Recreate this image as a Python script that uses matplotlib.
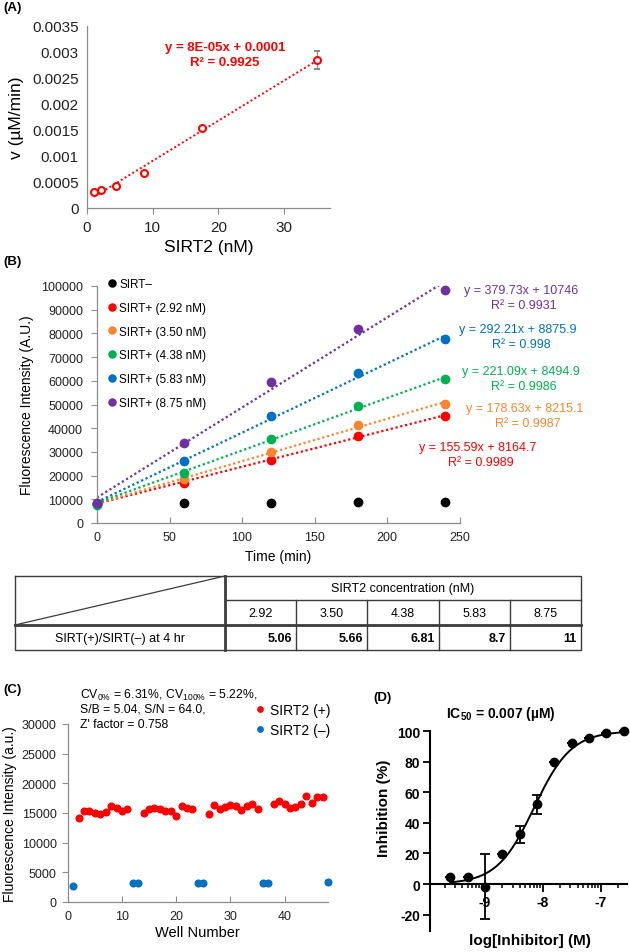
import numpy as np
import matplotlib
matplotlib.use('Agg')
import matplotlib.pyplot as plt

plt.rcParams['font.family'] = ['Liberation Sans', 'DejaVu Sans']
plt.rcParams['mathtext.fontset'] = 'custom'
plt.rcParams['mathtext.rm'] = 'Liberation Sans'
plt.rcParams['mathtext.it'] = 'Liberation Sans:italic'
plt.rcParams['mathtext.bf'] = 'Liberation Sans:bold'
plt.rcParams['axes.unicode_minus'] = False

W, H = 630, 953

# ---- (A) velocity vs enzyme
sirt2_nM = [1.09, 2.19, 4.38, 8.75, 17.5, 35.0]
velocity = [0.00031, 0.00035, 0.00042, 0.00067, 0.00153, 0.00285]
velocity_err = [0, 0, 0, 0, 0, 0.00017]
a_fit_text = ['y = 8E-05x + 0.0001', 'R² = 0.9925']

# ---- (B) time course
time_min = [0, 60, 120, 180, 240]
sirt_neg = [8200, 8300, 8300, 8700, 8800]
sirt_292 = [8000, 16900, 26700, 36800, 45000]
sirt_350 = [8100, 18400, 30100, 41200, 50300]
sirt_438 = [7600, 21200, 35600, 49500, 60800]
sirt_583 = [8300, 26000, 45000, 63200, 77500]
sirt_875 = [8600, 33600, 59400, 81900, 98300]
b_labels = ['SIRT–', 'SIRT+ (2.92 nM)', 'SIRT+ (3.50 nM)', 'SIRT+ (4.38 nM)',
            'SIRT+ (5.83 nM)', 'SIRT+ (8.75 nM)']
b_colors = ['#000000', '#FF0000', '#F7862F', '#00B050', '#0070C0', '#7030A0']
b_slopes = [155.59, 178.63, 221.09, 292.21, 379.73]
b_icpts = [8164.7, 8215.1, 8494.9, 8875.9, 10746]
b_r2 = ['0.9989', '0.9987', '0.9986', '0.998', '0.9931']

# ---- table
conc_labels = ['2.92', '3.50', '4.38', '5.83', '8.75']
ratios = ['5.06', '5.66', '6.81', '8.7', '11']

# ---- (C) plate uniformity
wells_pos = [2, 3, 4, 5, 6, 7, 8, 9, 10, 11, 14, 15, 16, 17, 18, 19, 20, 21, 22, 23,
             26, 27, 28, 29, 30, 31, 32, 33, 34, 35, 38, 39, 40, 41, 42, 43, 44, 45, 46, 47]
signal_pos = [14240, 15420, 15300, 15040, 14760, 15240, 16200, 15800, 15420, 15700,
              14970, 15650, 15760, 15700, 15360, 15360, 14460, 16140, 15920, 15650,
              14760, 16390, 15700, 15980, 16330, 16200, 15530, 16200, 16480, 15700,
              16480, 17040, 16480, 15870, 15980, 16480, 17900, 16700, 17700, 17750]
wells_neg = [1, 12, 13, 24, 25, 36, 37, 48]
signal_neg = [2650, 3200, 3250, 3200, 3150, 3150, 3150, 3330]

# ---- (D) dose response
log_inh = [-9.6, -9.3, -9.0, -8.7, -8.4, -8.1, -7.8, -7.5, -7.2, -6.9, -6.6]
inhibition = [4.8, 4.4, -1.7, 19.4, 32.5, 52.0, 79.5, 92.2, 95.4, 98.5, 99.8]
inhibition_err = [0, 0, 21, 0, 5.7, 6.3, 0, 0, 0, 0, 0]
fit_bottom, fit_top, fit_logic50, fit_hill = 0.0, 100.0, -8.15, 1.35


def box(l, t, r, b):
    return [l / W, 1 - b / H, (r - l) / W, (b - t) / H]


fig = plt.figure(figsize=(W / 100, H / 100), dpi=100)


def ftext(x, y, s, **kw):
    kw.setdefault('ha', 'center')
    kw.setdefault('va', 'center')
    fig.text(x / W, 1 - y / H, s, **kw)


def excel_axes(ax):
    for s in ['top', 'right']:
        ax.spines[s].set_visible(False)
    for s in ['left', 'bottom']:
        ax.spines[s].set_color('#8C8C8C')
        ax.spines[s].set_linewidth(0.9)
    ax.tick_params(colors='#8C8C8C', labelcolor='#222222', labelsize=9)


# (A)
axA = fig.add_axes(box(87, 27, 330, 209))
excel_axes(axA)
k, b0 = np.polyfit(sirt2_nM, velocity, 1)
xa = np.array([sirt2_nM[0], sirt2_nM[-1]])
axA.plot(xa, k * xa + b0, ls=(0, (1, 1.3)), color='#FF0000', lw=1.4)
axA.errorbar(sirt2_nM, velocity, yerr=velocity_err, fmt='o', mfc='white', mec='#FF0000',
             ms=5, mew=1.5, ecolor='#8C8C8C', elinewidth=0.9, capsize=2.5, capthick=0.9)
axA.set_xlim(0, 37)
axA.set_ylim(0, 0.0035)
yt = np.arange(0, 0.0036, 0.0005)
axA.set_yticks(yt)
axA.set_yticklabels(['%g' % v for v in yt], fontsize=11)
axA.set_xticks([0, 10, 20, 30])
axA.set_xticklabels(['0', '10', '20', '30'], fontsize=11)
axA.tick_params(axis='y', length=0, pad=6)
axA.tick_params(axis='x', length=4, pad=5)
axA.set_ylabel('v (µM/min)', fontsize=12.5, labelpad=6)
axA.set_xlabel('SIRT2 (nM)', fontsize=12.5, labelpad=3)
ftext(225, 48, a_fit_text[0], color='#FF0000', fontsize=9.5, fontweight='bold')
ftext(225, 63, a_fit_text[1], color='#FF0000', fontsize=9.5, fontweight='bold')
ftext(3, 8, '(A)', ha='left', fontsize=9.5, fontweight='bold')

# (B)
axB = fig.add_axes(box(97, 287, 459.5, 524))
excel_axes(axB)
series = [sirt_neg, sirt_292, sirt_350, sirt_438, sirt_583, sirt_875]
tt = np.array([time_min[0], time_min[-1]])
for i, (ys, c, lab) in enumerate(zip(series, b_colors, b_labels)):
    if i > 0:
        axB.plot(tt, b_slopes[i - 1] * tt + b_icpts[i - 1], ls=(0, (1, 1.2)),
                 color=c, lw=1.6, zorder=2)
    axB.plot(time_min, ys, 'o', color=c, ms=6, label=lab, zorder=3, clip_on=False)
axB.set_xlim(0, 250)
axB.set_ylim(0, 100000)
axB.set_xticks(np.arange(0, 251, 50))
axB.set_yticks(np.arange(0, 100001, 10000))
axB.set_yticklabels([str(v) for v in range(0, 100001, 10000)])
axB.tick_params(axis='y', length=4, pad=6)
axB.tick_params(axis='x', direction='in', length=4, pad=6)
axB.set_ylabel('Fluorescence Intensity (A.U.)', fontsize=10, labelpad=5)
axB.set_xlabel('Time (min)', fontsize=10, labelpad=4)
axB.legend(loc='upper left', bbox_to_anchor=(108 / W, 1 - 279 / H),
           bbox_transform=fig.transFigure, frameon=False, fontsize=8.5,
           handlelength=0.6, handletextpad=0.35, labelspacing=1.0,
           borderpad=0, borderaxespad=0, markerscale=0.85)
eq_pos = [(478, 448), (525, 409), (521, 372), (518, 330), (521, 291)]
for i, (x, y) in enumerate(eq_pos):
    c = b_colors[i + 1]
    ftext(x, y, 'y = %gx + %g' % (b_slopes[i], b_icpts[i]), color=c, fontsize=9)
    ftext(x + 3, y + 15, 'R² = %s' % b_r2[i], color=c, fontsize=9)
ftext(3, 262, '(B)', ha='left', fontsize=9.5, fontweight='bold')

# table
axT = fig.add_axes([0, 0, 1, 1], zorder=-1)
axT.set_xlim(0, W)
axT.set_ylim(H, 0)
axT.axis('off')
lc = '#3C3C3C'
tl, tr, tt0, tb = 15, 581, 577, 651
tmid, tsub, tcol = 626, 601, 225
cols = [225, 296, 367, 439, 510, 581]
axT.plot([tl, tr, tr, tl, tl], [tt0, tt0, tb, tb, tt0], color=lc, lw=1.0)
axT.plot([tl, tr], [tmid, tmid], color=lc, lw=2.0)
axT.plot([tcol, tcol], [tt0, tb], color=lc, lw=2.0)
axT.plot([tcol, tr], [tsub, tsub], color=lc, lw=1.0)
for cx in cols[1:-1]:
    axT.plot([cx, cx], [tsub, tb], color=lc, lw=1.0)
axT.plot([tl, tcol], [tmid, tt0], color=lc, lw=0.9)
ftext((tcol + tr) / 2, 589, 'SIRT2 concentration (nM)', fontsize=9)
for j in range(5):
    ftext((cols[j] + cols[j + 1]) / 2, 614, conc_labels[j], fontsize=9)
    ftext(cols[j + 1] - 4, 639, ratios[j], ha='right', fontsize=9, fontweight='bold')
ftext((tl + tcol) / 2, 639, 'SIRT(+)/SIRT(–) at 4 hr', fontsize=9)

# (C)
axC = fig.add_axes(box(67.7, 725, 328, 903))
excel_axes(axC)
axC.plot(wells_pos, signal_pos, 'o', color='#FF0000', ms=4.8, label='SIRT2 (+)', clip_on=False)
axC.plot(wells_neg, signal_neg, 'o', color='#0070C0', ms=4.8, label='SIRT2 (–)', clip_on=False)
axC.set_xlim(0, 48)
axC.set_ylim(0, 30000)
axC.set_xticks([0, 10, 20, 30, 40])
axC.set_yticks(np.arange(0, 30001, 5000))
axC.tick_params(axis='y', length=4, pad=4)
axC.tick_params(axis='x', direction='in', length=4, pad=6)
axC.set_ylabel('Fluorescence Intensity (a.u.)', fontsize=10, labelpad=3)
axC.set_xlabel('Well Number', fontsize=10.5, labelpad=2)
axC.legend(loc='upper left', bbox_to_anchor=(257 / W, 1 - 704 / H),
           bbox_transform=fig.transFigure, frameon=False, fontsize=10,
           handlelength=0.5, handletextpad=0.4, labelspacing=0.45,
           borderpad=0, borderaxespad=0, markerscale=0.8)
ftext(80, 695, r'CV$_{0\%}$ = 6.31%, CV$_{100\%}$ = 5.22%,', ha='left', fontsize=8.8)
ftext(80, 710, 'S/B = 5.04, S/N = 64.0,', ha='left', fontsize=8.8)
ftext(80, 725, "Z' factor = 0.758", ha='left', fontsize=8.8)
ftext(3, 690, '(C)', ha='left', fontsize=9.5, fontweight='bold')

# (D)
axD = fig.add_axes(box(430, 732, 626.7, 931.7))
for s in ['top', 'right']:
    axD.spines[s].set_visible(False)
axD.spines['left'].set_linewidth(1.5)
axD.spines['bottom'].set_linewidth(1.5)
axD.spines['bottom'].set_position(('data', 0))
xc = np.linspace(log_inh[0], log_inh[-1], 200)
yc = fit_bottom + (fit_top - fit_bottom) / (1 + 10 ** ((fit_logic50 - xc) * fit_hill))
axD.plot(xc, yc, color='black', lw=1.4)
axD.errorbar(log_inh, inhibition, yerr=inhibition_err, fmt='o', color='black', ms=6,
             elinewidth=1.3, capsize=3.5, capthick=1.3, clip_on=False)
axD.set_xlim(-9.95, -6.55)
axD.set_ylim(-30.5, 100)
axD.set_yticks(np.arange(-20, 101, 20))
axD.set_xticks([-9, -8, -7])
minor = [n + np.log10(m) for n in range(-10, -6) for m in range(2, 10)]
minor = [v for v in minor if -9.95 < v < -6.55]
axD.set_xticks(minor, minor=True)
axD.tick_params(axis='both', width=1.3, labelsize=10)
axD.tick_params(axis='x', which='major', length=6, pad=2)
axD.tick_params(axis='x', which='minor', length=3, width=1.1)
axD.tick_params(axis='y', length=5, pad=2)
for lb in axD.get_xticklabels() + axD.get_yticklabels():
    lb.set_fontweight('bold')
ftext(384, 808, 'Inhibition (%)', rotation=90, fontsize=11, fontweight='bold')
ftext(530, 941, 'log[Inhibitor] (M)', fontsize=11, fontweight='bold')
ftext(501, 714, r'IC$_{\mathbf{50}}$ = 0.007 (µM)', fontsize=10, fontweight='bold')
ftext(382, 698, '(D)', fontsize=9.5, fontweight='bold')

fig.savefig('out.png', dpi=100)
